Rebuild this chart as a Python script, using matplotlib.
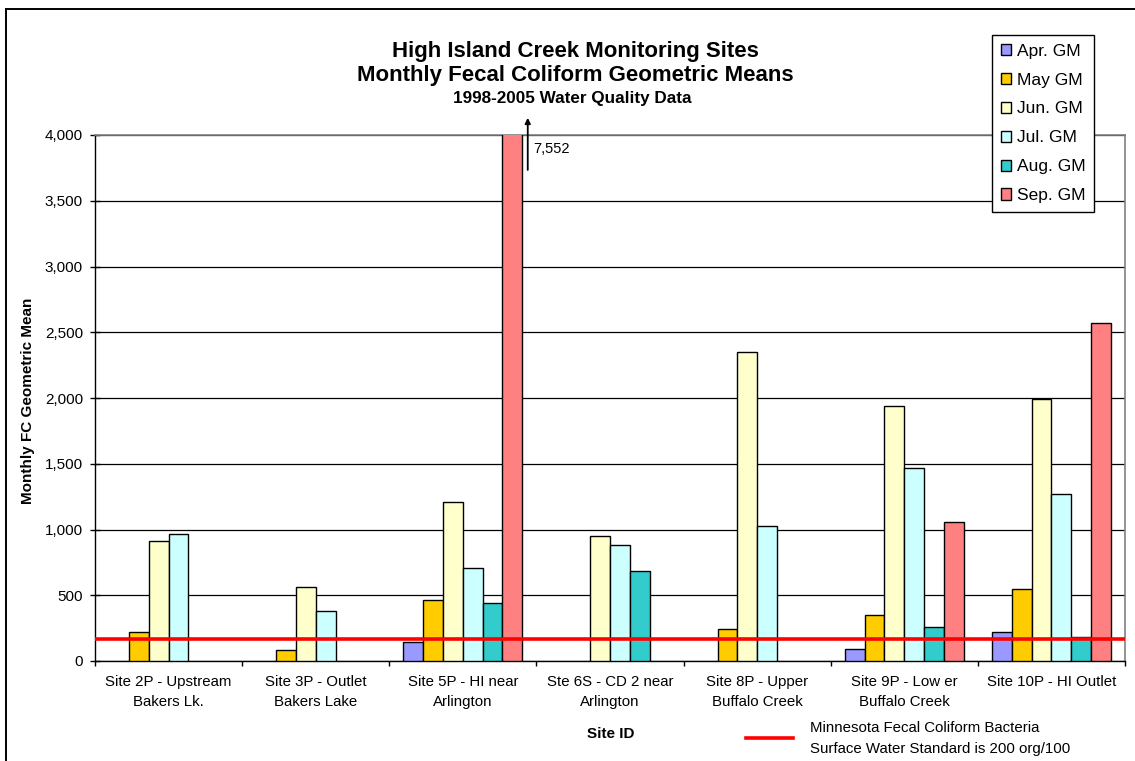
import numpy as np
import matplotlib
matplotlib.use("Agg")
import matplotlib.pyplot as plt
from matplotlib.lines import Line2D
from matplotlib.ticker import FuncFormatter

plt.rcParams['font.family'] = ['Liberation Sans', 'DejaVu Sans']

sites = ["Site 2P - Upstream\nBakers Lk.", "Site 3P - Outlet\nBakers Lake",
         "Site 5P - HI near\nArlington", "Ste 6S - CD 2 near\nArlington",
         "Site 8P - Upper\nBuffalo Creek", "Site 9P - Low er\nBuffalo Creek",
         "Site 10P - HI Outlet"]
nan = np.nan
apr_gm = [nan, nan, 148, nan, nan, 94, 221]
may_gm = [221, 85, 464, nan, 243, 348, 548]
jun_gm = [913, 561, 1210, 951, 2349, 1940, 1991]
jul_gm = [966, 380, 708, 880, 1027, 1464, 1271]
aug_gm = [nan, nan, 444, 688, nan, 262, 180]
sep_gm = [nan, nan, 7552, nan, nan, 1058, 2569]
months = ["Apr. GM", "May GM", "Jun. GM", "Jul. GM", "Aug. GM", "Sep. GM"]
colors = ["#9999FF", "#FFCC00", "#FFFFCC", "#CCFFFF", "#33CCCC", "#FF8080"]
standard = 165
clipped_label = "7,552"

W, H = 1135, 761
fig = plt.figure(figsize=(W / 100, H / 100), dpi=100)
ax = fig.add_axes([95 / W, 1 - 661 / H, (1125 - 95) / W, (661 - 135) / H])

x = np.arange(len(sites))
bw = 0.1345
series = [apr_gm, may_gm, jun_gm, jul_gm, aug_gm, sep_gm]
handles = []
for i, (vals, c, lab) in enumerate(zip(series, colors, months)):
    b = ax.bar(x + (i - 2.5) * bw, vals, bw, color=c, edgecolor="black",
               linewidth=1.0, label=lab, zorder=3)
    handles.append(b)

ax.axhline(standard, color="#FF0000", lw=2.6, zorder=4)

ax.set_ylim(0, 4000)
ax.set_xlim(-0.5, len(sites) - 0.5)
ax.set_yticks(np.arange(0, 4001, 500))
ax.yaxis.set_major_formatter(FuncFormatter(lambda v, p: f"{int(v):,}"))
ax.yaxis.grid(True, color="black", lw=0.9, zorder=0)
ax.set_axisbelow(True)

ax.set_xticks(x)
ax.set_xticklabels(sites, fontsize=10.8, linespacing=1.55)
ax.set_xticks(np.arange(-0.5, len(sites)), minor=True)
ax.tick_params(axis="x", which="major", length=0, pad=10)
ax.tick_params(axis="x", which="minor", direction="out", length=3.6, width=1)
ax.tick_params(axis="y", direction="inout", length=7.2, width=1, pad=5,
               labelsize=11)

for s in ["top", "right"]:
    ax.spines[s].set_color("#808080")
    ax.spines[s].set_linewidth(1.2)
for s in ["left", "bottom"]:
    ax.spines[s].set_color("black")
    ax.spines[s].set_linewidth(1.0)

# arrow for the clipped Sep bar at Site 5P
ax.annotate("", xy=(2.441, 4152), xytext=(2.441, 3713),
            arrowprops=dict(arrowstyle="-|>", color="black", lw=1.3,
                            mutation_scale=8), annotation_clip=False)
ax.text(2.477, 3893, clipped_label, fontsize=10.5, va="center", ha="left")

# titles
fig.text(575 / W, 1 - 57 / H, "High Island Creek Monitoring Sites",
         ha="center", va="baseline", fontsize=16, fontweight="bold")
fig.text(575 / W, 1 - 81 / H, "Monthly Fecal Coliform Geometric Means",
         ha="center", va="baseline", fontsize=16, fontweight="bold")
fig.text(572 / W, 1 - 103 / H, "1998-2005 Water Quality Data",
         ha="center", va="baseline", fontsize=12.3, fontweight="bold")

fig.text(28 / W, 1 - 401 / H, "Monthly FC Geometric Mean", rotation=90,
         ha="center", va="center", fontsize=11, fontweight="bold")
fig.text(611 / W, 1 - 734 / H, "Site ID", ha="center", va="center",
         fontsize=11, fontweight="bold")

leg = fig.legend(handles=handles, loc="upper left",
                 bbox_to_anchor=(992 / W, 1 - 35 / H), fontsize=12.5,
                 frameon=True, fancybox=False, framealpha=1,
                 edgecolor="black", handlelength=0.6, handleheight=0.6,
                 handletextpad=0.35, labelspacing=0.8, borderpad=0.5,
                 borderaxespad=0)
leg.get_frame().set_linewidth(1.0)

# standard line key
fig.add_artist(Line2D([746 / W, 793 / W], [1 - 738 / H, 1 - 738 / H],
                      color="#FF0000", lw=2.6))
fig.text(810 / W, 1 - 728 / H, "Minnesota Fecal Coliform Bacteria",
         ha="left", va="center", fontsize=10.8)
fig.text(810 / W, 1 - 749 / H, "Surface Water Standard is 200 org/100",
         ha="left", va="center", fontsize=10.8)

# outer chart frame
fig.add_artist(Line2D([6 / W, 6 / W], [0, 1 - 9 / H], color="black", lw=1.4))
fig.add_artist(Line2D([6 / W, 1], [1 - 9 / H, 1 - 9 / H], color="black", lw=1.4))

fig.savefig("out.png", dpi=100)
